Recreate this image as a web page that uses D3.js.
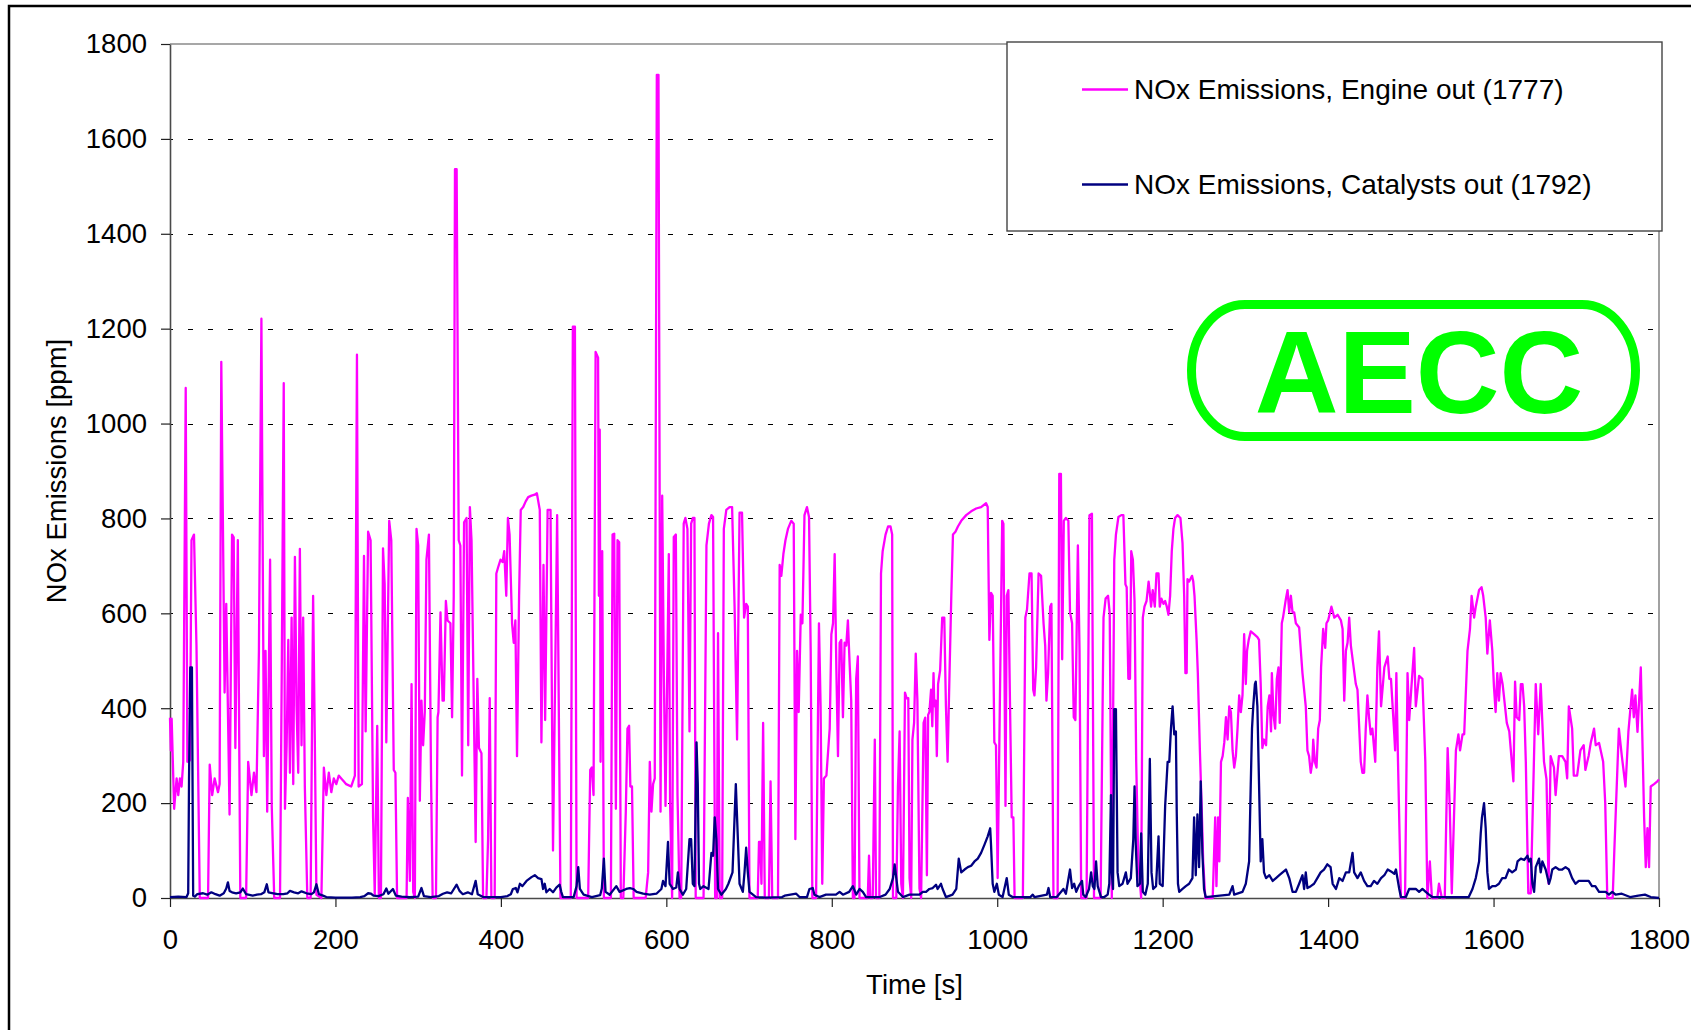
<!DOCTYPE html>
<html>
<head>
<meta charset="utf-8">
<script src="https://cdn.jsdelivr.net/npm/d3@7"></script>
<style>
  body { margin: 0; background: #fff; }
  text { font-family: "Liberation Sans", Arial, sans-serif; }
</style>
</head>
<body>
<div id="chart"></div>
<script>
// Data: [time s, NOx ppm]
const engineOut = [[0,380],[1,311],[2,378],[5,188],[8,252],[10,217],[12,252],[14,235],[16,287],[19,1075],[21,287],[24,290],[26,754],[29,766],[32,532],[36,0],[46,0],[48,281],[51,217],[54,252],[58,223],[60,240],[62,1130],[66,433],[68,620],[72,176],[75,766],[77,760],[79,316],[82,754],[85,0],[92,0],[94.5,287],[98.5,217],[101.5,264],[104.5,223],[107.5,521],[110.5,1221],[113.5,299],[115.5,521],[117.5,182],[121,713],[123,194],[126,0],[133,0],[135,456],[137.5,1085],[139,188],[141,322],[143,544],[145,264],[147,591],[149,240],[151,719],[153,404],[155,264],[157,736],[159,322],[161,591],[163,235],[166,0],[170,0],[173,637],[175,345],[177,7],[183,0],[186,275],[189,217],[192,264],[195,223],[198,252],[201,240],[204,258],[207,252],[210,246],[213,240],[219,235],[223.5,258],[226,1145],[228,235],[232,240],[234.5,721],[236.5,351],[239.5,772],[242.5,754],[245.5,170],[247.5,7],[250.5,363],[252.5,0],[255,0],[257.5,737],[259.5,661],[261.5,328],[265,795],[267.5,754],[270.5,270],[272.5,264],[274.5,0],[286,0],[287.5,211],[290,36],[292,451],[294,13],[296,0],[298,778],[300,743],[302,205],[304,416],[306,322],[308,392],[310,713],[313,766],[315.5,264],[317.5,0],[321.5,0],[323.5,381],[324.5,392],[327,602],[329.5,416],[331,416],[333.5,626],[335.5,585],[339,579],[341,381],[343,637],[344.5,1536],[346.5,1536],[349,754],[351,743],[353,258],[355.5,792],[358.5,801],[360.5,322],[362.5,824],[364.5,754],[367,439],[369.5,118],[371.5,462],[373.5,316],[376.5,305],[378.5,0],[382.5,0],[384.5,124],[386.5,421],[388.5,0],[392.5,0],[394.5,684],[396.5,696],[399.5,713],[402,708],[404,731],[406.5,637],[408.5,801],[410.5,766],[413.5,579],[415.5,538],[417.5,585],[419.5,299],[422,637],[424,818],[427,824],[430,836],[433,845],[437,848],[441,850],[443.5,853],[447,818],[449,328],[451.5,702],[453.5,375],[456.5,818],[460,818],[463,100],[468,807],[472,0],[484.5,0],[487,1204],[489.5,1204],[491.5,0],[505.5,0],[508,270],[510,275],[512,217],[514.5,1151],[517.5,1139],[518.5,637],[519.5,987],[520.5,287],[522.5,731],[524.5,0],[533,0],[535,766],[537,768],[539,188],[541,754],[543,750],[545,0],[548,0],[551,182],[553,357],[555,363],[556.5,235],[558.5,235],[560.5,0],[575,0],[578,54],[580,287],[582,182],[584,240],[586,252],[588.5,1735],[590.5,1735],[593,182],[595,848],[597,474],[599,194],[603,725],[604.5,205],[607,0],[609,761],[611.5,766],[613.5,217],[616,0],[618,0],[621,789],[623,801],[625.5,778],[628,351],[630,789],[632,801],[634,801],[635.5,0],[645,0],[648.5,743],[651.5,789],[654.5,807],[656.5,803],[659,0],[661,0],[662.5,558],[664.5,0],[667.5,0],[669.5,778],[672.5,818],[676.5,824],[679.5,824],[682.5,614],[685.5,334],[688.5,812],[691.5,812],[694,591],[696.5,620],[698.5,614],[700.5,0],[710.5,0],[712,118],[713.5,118],[715,30],[717,369],[719,0],[724,0],[726,246],[728,0],[735,0],[737,702],[739,679],[741.5,725],[744,754],[747,778],[751,795],[754,789],[756,124],[758,521],[760,392],[762.5,597],[764.5,579],[767,807],[770,824],[772.5,803],[774.5,521],[776.5,0],[781,0],[784.5,579],[786.5,404],[788.5,30],[790.5,252],[793.5,258],[797.5,357],[799.5,556],[801.5,579],[803.5,725],[805.5,486],[807.5,299],[809.5,538],[811.5,544],[813.5,381],[815.5,538],[817.5,532],[819.5,585],[821.5,497],[823.5,416],[825.5,0],[827.5,0],[829.5,462],[831.5,509],[833.5,0],[843.5,0],[845,89],[846.5,0],[849.5,0],[852,334],[853.5,0],[857.5,0],[859.5,684],[861.5,731],[865,766],[868,783],[871,783],[873,766],[874,0],[878,0],[880,235],[882,351],[884,30],[886,0],[888.5,433],[890.5,421],[892.5,421],[894,42],[896,0],[897.5,334],[899.5,369],[901.5,515],[903.5,416],[906,20],[908,0],[911,369],[913,380],[915,48],[916.5,386],[918,392],[920,439],[921.5,362],[923,474],[924,404],[925.5,416],[927,299],[928.5,451],[931,480],[933.5,591],[936,591],[938,404],[940,287],[942.5,486],[944.5,637],[946.5,766],[949.5,772],[952.5,783],[956.5,795],[962.5,807],[968.5,815],[974.5,821],[980.5,824],[986.5,832],[988.5,824],[990.5,544],[992.5,643],[994.5,637],[996.5,328],[998.5,322],[1000.5,42],[1006,795],[1007.5,789],[1010,194],[1011.5,637],[1013.5,649],[1015.5,404],[1017.5,170],[1019.5,170],[1021,0],[1031,0],[1034,591],[1036,608],[1039,684],[1041.5,684],[1043.5,439],[1045,427],[1047,486],[1050,684],[1053,679],[1056,579],[1058,532],[1059.5,416],[1061.5,474],[1064,614],[1065.5,620],[1068,0],[1073,0],[1075,894],[1077,894],[1078.5,503],[1080.5,795],[1083,801],[1086,795],[1088,602],[1090.5,579],[1092.5,381],[1094.5,375],[1097.5,743],[1099.5,521],[1101.5,0],[1108,0],[1111.5,807],[1114.5,810],[1117,0],[1125,0],[1128.5,591],[1131,631],[1134,637],[1136,600],[1138.5,0],[1141.5,713],[1143.5,766],[1146.5,803],[1150,807],[1152.5,807],[1155,661],[1156.5,655],[1158.5,462],[1160.5,462],[1162,731],[1164,713],[1166,626],[1168,287],[1170.5,77],[1174,0],[1176,591],[1178,614],[1180.5,626],[1183,667],[1184.5,643],[1186,614],[1188,649],[1190.5,614],[1192.5,684],[1195,684],[1196.5,614],[1198.5,631],[1201,620],[1203,626],[1205,614],[1207,597],[1209,637],[1211,731],[1213,778],[1215,801],[1218,807],[1221.5,801],[1224,748],[1226,637],[1227.5,474],[1229,474],[1230,672],[1232,667],[1235.5,679],[1237,667],[1238.5,637],[1241,544],[1242.5,474],[1245,311],[1247.5,170],[1249,77],[1251.5,0],[1260.5,0],[1263.5,170],[1265,25],[1267,170],[1268.5,77],[1270.5,287],[1272.5,299],[1274.5,328],[1276.5,381],[1278.5,334],[1280.5,404],[1282.5,392],[1284.5,311],[1286.5,275],[1288.5,299],[1290.5,357],[1292.5,427],[1294.5,392],[1296.5,427],[1298.5,556],[1300.5,451],[1302,521],[1304,544],[1306.5,562],[1310.5,556],[1314.5,550],[1316.5,544],[1318.5,451],[1320.5,316],[1322.5,334],[1325,322],[1327,404],[1329,427],[1331,351],[1332,474],[1334,386],[1336,357],[1338,462],[1340,486],[1341.5,369],[1344,579],[1345.5,591],[1349,631],[1351,649],[1353,602],[1355,637],[1357,602],[1359,602],[1361,579],[1365,570],[1369,474],[1373,404],[1375,311],[1377,299],[1379,264],[1381,287],[1382,334],[1384,287],[1386,275],[1388,357],[1390,375],[1391.5,486],[1394,567],[1396.5,527],[1398,579],[1400,585],[1404,614],[1407.5,591],[1411.5,597],[1415.5,585],[1417.5,567],[1419.5,416],[1421.5,521],[1423.5,538],[1425.5,591],[1427.5,532],[1433.5,451],[1435.5,439],[1439.5,287],[1441.5,264],[1443.5,264],[1445.5,357],[1447.5,427],[1449.5,381],[1451.5,345],[1453.5,357],[1457,287],[1459.5,486],[1461.5,562],[1464,404],[1468,486],[1472,509],[1474,462],[1476,462],[1480,345],[1481,311],[1482.5,474],[1484.5,287],[1488,0],[1493,0],[1496,474],[1498,375],[1500,427],[1504,527],[1506,404],[1510,468],[1514,462],[1517.5,287],[1520,0],[1523,77],[1525.5,0],[1532,0],[1534,30],[1537.5,0],[1541,0],[1544.5,316],[1547,194],[1549.5,10],[1554.5,311],[1557.5,345],[1559.5,311],[1562.5,345],[1564.5,345],[1568.5,521],[1571.5,567],[1573.5,637],[1576.5,591],[1578.5,614],[1582.5,649],[1585.5,655],[1587.5,637],[1590.5,591],[1592.5,515],[1595.5,585],[1598.5,521],[1600.5,445],[1602.5,392],[1604.5,474],[1606.5,416],[1608.5,474],[1611,450],[1616,369],[1619,351],[1624,246],[1626,456],[1628,381],[1631,375],[1633,451],[1635,451],[1637,404],[1639,287],[1642,10],[1645,10],[1651,451],[1654,345],[1657,451],[1661,287],[1664,250],[1666.5,30],[1669,299],[1673,275],[1675,217],[1679,299],[1683,299],[1687,287],[1689,252],[1691,404],[1695,357],[1697,258],[1701,258],[1705,311],[1709,322],[1711,270],[1715,300],[1717.5,327],[1721.5,357],[1723.5,322],[1727.5,327],[1732.5,287],[1735,200],[1737.5,0],[1744,0],[1746,100],[1751.5,357],[1755,300],[1759.5,235],[1763,350],[1767.5,439],[1769.5,381],[1771.5,427],[1774,350],[1778,486],[1782,170],[1784,65],[1786,147],[1788,65],[1790,235],[1794,240],[1798,246],[1800,250]];

const catalystOut = [[0,2],[10,3],[20,2],[22,10],[23,250],[24.5,486],[26.5,486],[28,5],[30,3],[33,8],[40,10],[45,7],[50,12],[55,8],[60,5],[65,10],[68,20],[70,33],[72,15],[75,12],[80,10],[85,12],[88,20],[92,8],[100,5],[105,7],[110,8],[114,12],[117,29],[119,12],[125,10],[130,8],[137,8],[142,10],[145,15],[150,12],[155,10],[159,14],[165,10],[171,8],[174,12],[177,29],[180,8],[185,5],[189,2],[200,1],[210,1],[220,1],[230,2],[235,4],[239.5,10],[243,9],[246,5],[252,4],[258,8],[261.5,20],[264,9],[269.5,19],[273,5],[280,3],[290,2],[300,3],[304,21],[307,4],[315,2],[325,4],[330,9],[335,12],[340,10],[346.5,28],[350,15],[354,8],[360,12],[365,8],[369.5,36],[372,8],[378.5,2],[390,2],[400,2],[408,4],[412,8],[414.5,19],[418,21],[420,12],[423,30],[426,25],[431,36],[437,44],[441,48],[445,42],[449,40],[451,19],[453,30],[455,12],[459,19],[463,12],[467,22],[471,28],[473,13],[475,2],[488,2],[491.5,25],[493.5,65],[495.5,19],[500,7],[510,2],[520,6],[522,20],[524.5,83],[526.5,13],[531.5,7],[539.5,25],[543.5,13],[551.5,19],[556,21],[560,19],[564,13],[572,9],[580,7],[588,9],[594,19],[596,36],[599,25],[602,118],[604,30],[608,19],[612,22],[614,54],[616,19],[620,7],[624,19],[628,124],[630,124],[632,30],[634,25],[636.5,328],[638,240],[639.5,30],[641,19],[645,25],[651,19],[654.5,95],[656.5,89],[658.5,170],[660.5,124],[662.5,19],[666.5,7],[672,19],[675,30],[680,54],[684,240],[686.5,124],[688.5,30],[692.5,13],[694.5,54],[696.5,106],[698.5,54],[700.5,13],[708.5,2],[720,1],[740,2],[743,5],[750,7],[757,9],[761,2],[770,2],[773,19],[777,21],[779,7],[785,2],[793,7],[800,7],[805,7],[809.5,13],[813.5,7],[821,13],[825.5,25],[829.5,7],[833.5,19],[837.5,13],[841.5,2],[858,2],[865,7],[870,19],[874,42],[876,71],[878,42],[880,13],[886,2],[894,7],[902,7],[906,7],[910,13],[914,13],[918,19],[922,21],[926,28],[928,19],[932,30],[934,19],[938,2],[946,7],[950.5,19],[953.5,83],[956.5,54],[960.5,60],[964.5,65],[968.5,68],[972.5,77],[976.5,83],[980.5,95],[984.5,112],[988.5,130],[991.5,147],[992.5,112],[994.5,30],[996.5,13],[999.5,30],[1002,7],[1006.5,2],[1011.5,42],[1014,7],[1018.5,2],[1040,2],[1043,7],[1045,2],[1060,7],[1062,21],[1064,2],[1072,2],[1080,19],[1083,9],[1088,60],[1090.5,21],[1093,30],[1095.5,13],[1098.5,25],[1102.5,36],[1104,7],[1107,2],[1111,19],[1113.5,54],[1115.5,25],[1117.5,19],[1119.5,77],[1121.5,25],[1125.5,2],[1129.5,2],[1133.5,7],[1135.5,30],[1137.5,217],[1138.5,54],[1140,19],[1141.5,398],[1143.5,398],[1145.5,54],[1147.5,25],[1151.5,30],[1155.5,54],[1157.5,30],[1161.5,42],[1164.5,124],[1166,235],[1167.5,112],[1169.5,25],[1172.5,30],[1174,136],[1176,13],[1179,7],[1182,30],[1184.5,293],[1186.5,54],[1188.5,19],[1192,25],[1195,130],[1196.5,30],[1200,25],[1203,194],[1206,287],[1208,287],[1210,357],[1212,404],[1214,345],[1216,351],[1217,182],[1218.5,30],[1220,13],[1224,19],[1228,25],[1232,30],[1236,42],[1238,170],[1240,48],[1242,176],[1244,65],[1246,246],[1248,95],[1250,19],[1252,2],[1280.5,7],[1284.5,25],[1286.5,7],[1296.5,13],[1300.5,30],[1304.5,77],[1306.5,240],[1308,357],[1309.5,404],[1311.5,451],[1312.5,456],[1314.5,404],[1316.5,240],[1318.5,77],[1320.5,124],[1322.5,54],[1325,42],[1329,48],[1333,36],[1337,42],[1341,48],[1345,54],[1349,60],[1353,42],[1357,13],[1361,13],[1365,30],[1369,48],[1371,19],[1373,54],[1375,21],[1379,25],[1383,30],[1387,42],[1391,54],[1395,60],[1399,71],[1403,65],[1405.5,30],[1409.5,19],[1413.5,42],[1417.5,36],[1421.5,54],[1425.5,54],[1429.5,95],[1431.5,54],[1435.5,42],[1439.5,54],[1443.5,36],[1447.5,25],[1451.5,25],[1455.5,36],[1459.5,30],[1464,42],[1468,48],[1472,60],[1476,56],[1480,51],[1482,60],[1486,19],[1488,2],[1494,2],[1498,19],[1502,19],[1506,19],[1510,13],[1514,19],[1518,13],[1522,7],[1526,2],[1570,2],[1574.5,19],[1578.5,42],[1582.5,77],[1584.5,136],[1586,170],[1588.5,200],[1590.5,147],[1592.5,54],[1594.5,19],[1598.5,25],[1602.5,25],[1606.5,30],[1610.5,42],[1614.5,42],[1618.5,60],[1622.5,54],[1627,60],[1629,77],[1633,83],[1637,80],[1641,89],[1643,77],[1645,83],[1647,30],[1649,13],[1651,65],[1655,83],[1657,54],[1659,77],[1663,60],[1667,30],[1669,42],[1671,60],[1675,65],[1679,60],[1683,60],[1687,65],[1691,60],[1695,42],[1699,30],[1703,36],[1707,36],[1711,36],[1715,36],[1719,25],[1723,25],[1727.5,13],[1731.5,13],[1735.5,13],[1739.5,7],[1743.5,13],[1747.5,7],[1755,9],[1765,2],[1775,5],[1783,7],[1790,2],[1800,0]];

const xTicks = [0, 200, 400, 600, 800, 1000, 1200, 1400, 1600, 1800];
const yTicks = [0, 200, 400, 600, 800, 1000, 1200, 1400, 1600, 1800];
const gridValues = [200, 400, 600, 800, 1000, 1200, 1400, 1600];
const seriesNames = ['NOx Emissions, Engine out (1777)', 'NOx Emissions, Catalysts out (1792)'];
const seriesColors = ['#ff00ff', '#000080'];

function draw() {
  let dimensions = {
    width: 1691,
    height: 1030,
    margin: { top: 44, left: 170, right: 32, bottom: 132 }
  };
  dimensions.ctrWidth = dimensions.width - dimensions.margin.left - dimensions.margin.right;
  dimensions.ctrHeight = dimensions.height - dimensions.margin.top - dimensions.margin.bottom;

  const fontSize = 27.5;

  const svg = d3.select('#chart')
    .append('svg')
    .attr('width', dimensions.width)
    .attr('height', dimensions.height);

  svg.append('rect')
    .attr('width', dimensions.width).attr('height', dimensions.height)
    .attr('fill', '#fff');

  // outer frame (runs off the right and bottom)
  svg.append('rect')
    .attr('x', 9).attr('y', 6)
    .attr('width', 1720).attr('height', 1100)
    .attr('fill', 'none').attr('stroke', '#000').attr('stroke-width', 2.5);

  const ctr = svg.append('g')
    .attr('transform', `translate(${dimensions.margin.left},${dimensions.margin.top})`);

  // Scales
  const xScale = d3.scaleLinear().domain([0, 1800]).range([0, dimensions.ctrWidth]);
  const yScale = d3.scaleLinear().domain([0, 1800]).range([dimensions.ctrHeight, 0]);

  // Gridlines
  ctr.selectAll('.grid')
    .data(gridValues)
    .join('line')
    .attr('class', 'grid')
    .attr('x1', 0).attr('x2', dimensions.ctrWidth)
    .attr('y1', d => Math.round(yScale(d)) + 0.5)
    .attr('y2', d => Math.round(yScale(d)) + 0.5)
    .attr('stroke', '#000').attr('stroke-width', 1)
    .attr('stroke-dasharray', '5,15').attr('stroke-dashoffset', 2);

  // Plot border top / right
  ctr.append('line')
    .attr('x1', 0).attr('x2', dimensions.ctrWidth).attr('y1', 0).attr('y2', 0)
    .attr('stroke', '#8a8a8a').attr('stroke-width', 1.6);
  ctr.append('line')
    .attr('x1', dimensions.ctrWidth).attr('x2', dimensions.ctrWidth)
    .attr('y1', 0).attr('y2', dimensions.ctrHeight)
    .attr('stroke', '#8a8a8a').attr('stroke-width', 1.6);

  // Axes
  const yAxis = d3.axisLeft(yScale).tickValues(yTicks).tickFormat(d3.format('d'))
    .tickSize(9).tickSizeOuter(0).tickPadding(14);
  const xAxis = d3.axisBottom(xScale).tickValues(xTicks).tickFormat(d3.format('d'))
    .tickSize(9).tickSizeOuter(0).tickPadding(22.5);

  const yG = ctr.append('g').call(yAxis);
  const xG = ctr.append('g').attr('transform', `translate(0,${dimensions.ctrHeight})`).call(xAxis);

  [yG, xG].forEach(g => {
    g.select('.domain').attr('stroke', '#4a4a4a').attr('stroke-width', 1.6);
    g.selectAll('.tick line').attr('stroke', '#222').attr('stroke-width', 1.2);
    g.selectAll('.tick text')
      .attr('fill', '#000')
      .style('font-size', fontSize + 'px')
      .style('font-family', '"Liberation Sans", Arial, sans-serif');
  });

  // Axis titles
  svg.append('text')
    .attr('x', dimensions.margin.left + dimensions.ctrWidth / 2)
    .attr('y', 994)
    .attr('text-anchor', 'middle')
    .style('font-size', fontSize + 'px')
    .text('Time [s]');

  svg.append('text')
    .attr('transform', `translate(66,${dimensions.margin.top + dimensions.ctrHeight / 2}) rotate(-90)`)
    .attr('text-anchor', 'middle')
    .style('font-size', fontSize + 'px')
    .text('NOx Emissions [ppm]');

  // Lines
  const lineGen = d3.line()
    .x(d => xScale(d[0]))
    .y(d => yScale(d[1]));

  [engineOut, catalystOut].forEach((series, i) => {
    ctr.append('path')
      .datum(series)
      .attr('d', lineGen)
      .attr('fill', 'none')
      .attr('stroke', seriesColors[i])
      .attr('stroke-width', 2.3)
      .attr('stroke-linejoin', 'round');
  });

  // Legend
  const legend = svg.append('g');
  legend.append('rect')
    .attr('x', 1007).attr('y', 42)
    .attr('width', 655).attr('height', 189)
    .attr('fill', '#fff').attr('stroke', '#444').attr('stroke-width', 1.4);

  const legendRows = [89.5, 184.5];
  seriesNames.forEach((name, i) => {
    legend.append('line')
      .attr('x1', 1082).attr('x2', 1128)
      .attr('y1', legendRows[i]).attr('y2', legendRows[i])
      .attr('stroke', seriesColors[i]).attr('stroke-width', 2.3);
    legend.append('text')
      .attr('x', 1134).attr('y', legendRows[i])
      .attr('dy', '0.355em')
      .style('font-size', '28px')
      .text(name);
  });

  // AECC logo
  const logo = svg.append('g');
  logo.append('rect')
    .attr('x', 1178).attr('y', 292).attr('width', 467).attr('height', 158)
    .attr('fill', '#fff');
  logo.append('path')
    .attr('d', 'M1245,304.5 L1582,304.5 A53.5,66 0 0 1 1582,436.5 L1245,436.5 A53.5,66 0 0 1 1245,304.5 Z')
    .attr('fill', 'none').attr('stroke', '#00ff00').attr('stroke-width', 9);
  logo.append('text')
    .attr('x', 1419).attr('y', 413)
    .attr('text-anchor', 'middle')
    .attr('fill', '#00ff00')
    .style('font-size', '116px')
    .style('font-weight', 'bold')
    .text('AECC');
}

draw()
</script>
</body>
</html>
